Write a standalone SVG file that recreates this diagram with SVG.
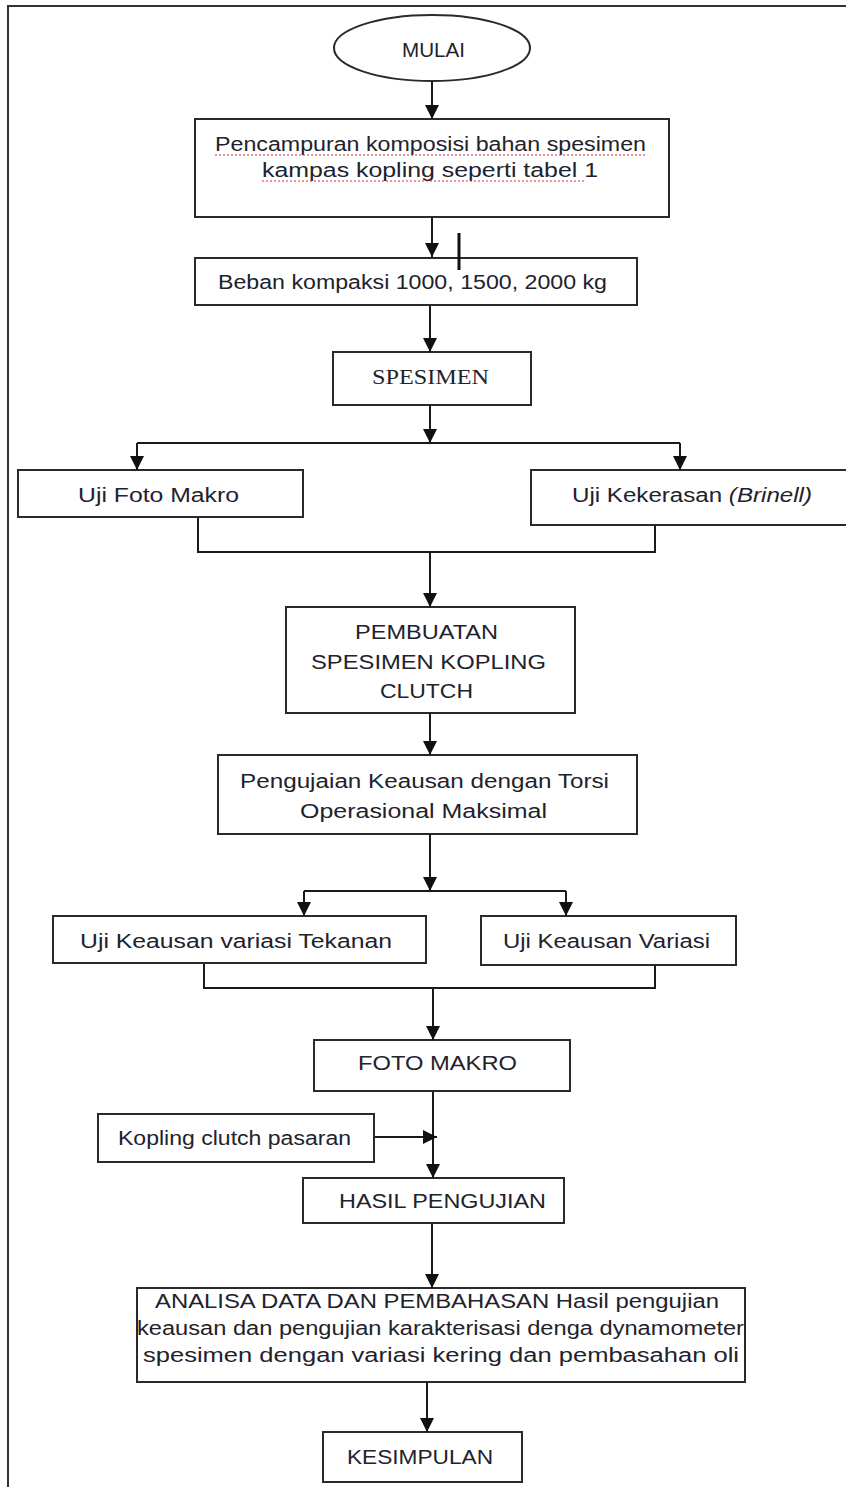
<svg xmlns="http://www.w3.org/2000/svg" width="846" height="1487" viewBox="0 0 846 1487">
<defs>
<marker id="ah" markerUnits="userSpaceOnUse" markerWidth="14" markerHeight="16" refX="14" refY="7" orient="auto">
<path d="M0,0 L14,7 L0,14 Z" fill="#111"/>
</marker>
<style>
.box{fill:#fff;stroke:#2a2a2a;stroke-width:2}
.ln{fill:none;stroke:#1a1a1a;stroke-width:2}
.ar{fill:none;stroke:#1a1a1a;stroke-width:2;marker-end:url(#ah)}
.t{font-family:"Liberation Sans",Arial,sans-serif;font-size:20px;fill:#22222c}
.s{font-family:"Liberation Serif","Times New Roman",serif;font-size:21px;fill:#22222c}
.sq{fill:none;stroke:#e03030;stroke-width:1.2;stroke-dasharray:2 2}
</style>
</defs>
<rect width="846" height="1487" fill="#fff"/>
<path d="M8,1487 V6 H846" fill="none" stroke="#333" stroke-width="2"/>

<g id="n-mulai">
<ellipse class="box" cx="432" cy="48" rx="98" ry="33"/>
<text class="t" x="402" y="57" textLength="63" lengthAdjust="spacingAndGlyphs" font-size="18">MULAI</text>
</g>

<g id="n-pencampuran">
<rect class="box" x="195" y="119" width="474" height="98"/>
<text class="t" x="215" y="151" textLength="431" lengthAdjust="spacingAndGlyphs">Pencampuran komposisi bahan spesimen</text>
<text class="t" x="262" y="177" textLength="336" lengthAdjust="spacingAndGlyphs">kampas kopling seperti tabel 1</text>
<path class="sq" d="M215,155 H646 M262,181 H586"/>
</g>

<g id="n-beban">
<rect class="box" x="195" y="258" width="442" height="47"/>
<text class="t" x="218" y="289" textLength="389" lengthAdjust="spacingAndGlyphs">Beban kompaksi 1000, 1500, 2000 kg</text>
</g>

<g id="n-spesimen">
<rect class="box" x="333" y="352" width="198" height="53"/>
<text class="s" x="372" y="384" textLength="117" lengthAdjust="spacingAndGlyphs">SPESIMEN</text>
</g>

<g id="n-foto-makro-uji">
<rect class="box" x="18" y="470" width="285" height="47"/>
<text class="t" x="78" y="502" textLength="161" lengthAdjust="spacingAndGlyphs">Uji Foto Makro</text>
</g>

<g id="n-kekerasan">
<rect class="box" x="531" y="470" width="330" height="55"/>
<text class="t" x="572" y="502" textLength="240" lengthAdjust="spacingAndGlyphs">Uji Kekerasan <tspan font-style="italic">(Brinell)</tspan></text>
</g>

<g id="n-pembuatan">
<rect class="box" x="286" y="607" width="289" height="106"/>
<text class="t" x="355" y="639" textLength="143" lengthAdjust="spacingAndGlyphs">PEMBUATAN</text>
<text class="t" x="311" y="669" textLength="235" lengthAdjust="spacingAndGlyphs">SPESIMEN  KOPLING</text>
<text class="t" x="380" y="698" textLength="93" lengthAdjust="spacingAndGlyphs">CLUTCH</text>
</g>

<g id="n-pengujaian">
<rect class="box" x="218" y="755" width="419" height="79"/>
<text class="t" x="240" y="788" textLength="369" lengthAdjust="spacingAndGlyphs">Pengujaian Keausan dengan Torsi</text>
<text class="t" x="300" y="818" textLength="247" lengthAdjust="spacingAndGlyphs">Operasional Maksimal</text>
</g>

<g id="n-tekanan">
<rect class="box" x="53" y="916" width="373" height="47"/>
<text class="t" x="80" y="948" textLength="312" lengthAdjust="spacingAndGlyphs">Uji Keausan variasi Tekanan</text>
</g>

<g id="n-variasi">
<rect class="box" x="481" y="916" width="255" height="49"/>
<text class="t" x="503" y="948" textLength="207" lengthAdjust="spacingAndGlyphs">Uji Keausan Variasi</text>
</g>

<g id="n-foto-makro">
<rect class="box" x="314" y="1040" width="256" height="51"/>
<text class="t" x="358" y="1070" textLength="159" lengthAdjust="spacingAndGlyphs">FOTO MAKRO</text>
</g>

<g id="n-kopling">
<rect class="box" x="98" y="1114" width="276" height="48"/>
<text class="t" x="118" y="1145" textLength="233" lengthAdjust="spacingAndGlyphs">Kopling clutch pasaran</text>
</g>

<g id="n-hasil">
<rect class="box" x="303" y="1178" width="261" height="45"/>
<text class="t" x="339" y="1208" textLength="207" lengthAdjust="spacingAndGlyphs">HASIL PENGUJIAN</text>
</g>

<g id="n-analisa">
<rect class="box" x="137" y="1288" width="608" height="94"/>
<text class="t" x="155" y="1308" textLength="564" lengthAdjust="spacingAndGlyphs">ANALISA DATA DAN PEMBAHASAN Hasil pengujian</text>
<text class="t" x="137" y="1335" textLength="607" lengthAdjust="spacingAndGlyphs">keausan dan pengujian karakterisasi denga dynamometer</text>
<text class="t" x="143" y="1362" textLength="596" lengthAdjust="spacingAndGlyphs">spesimen dengan variasi kering dan pembasahan oli</text>
</g>

<g id="n-kesimpulan">
<rect class="box" x="323" y="1432" width="199" height="50"/>
<text class="t" x="347" y="1464" textLength="146" lengthAdjust="spacingAndGlyphs">KESIMPULAN</text>
</g>

<g id="connectors">
<path class="ar" d="M432,82 V119"/>
<path class="ar" d="M432,217 V257"/>
<path d="M459,233 V270" stroke="#111" stroke-width="3"/>
<path class="ar" d="M430,306 V352"/>
<path class="ar" d="M430,405 V443"/>
<path class="ln" d="M137,443 H680"/>
<path class="ar" d="M137,443 V470"/>
<path class="ar" d="M680,443 V470"/>
<path class="ln" d="M198,518 V552 H655 V526"/>
<path class="ar" d="M430,552 V607"/>
<path class="ar" d="M430,713 V755"/>
<path class="ar" d="M430,834 V891"/>
<path class="ln" d="M304,891 H566"/>
<path class="ar" d="M304,891 V916"/>
<path class="ar" d="M566,891 V916"/>
<path class="ln" d="M204,964 V988 H655 V966"/>
<path class="ar" d="M433,988 V1040"/>
<path class="ar" d="M433,1092 V1178"/>
<path class="ar" d="M375,1137 H437"/>
<path class="ar" d="M432,1223 V1288"/>
<path class="ar" d="M427,1382 V1432"/>
</g>
</svg>
